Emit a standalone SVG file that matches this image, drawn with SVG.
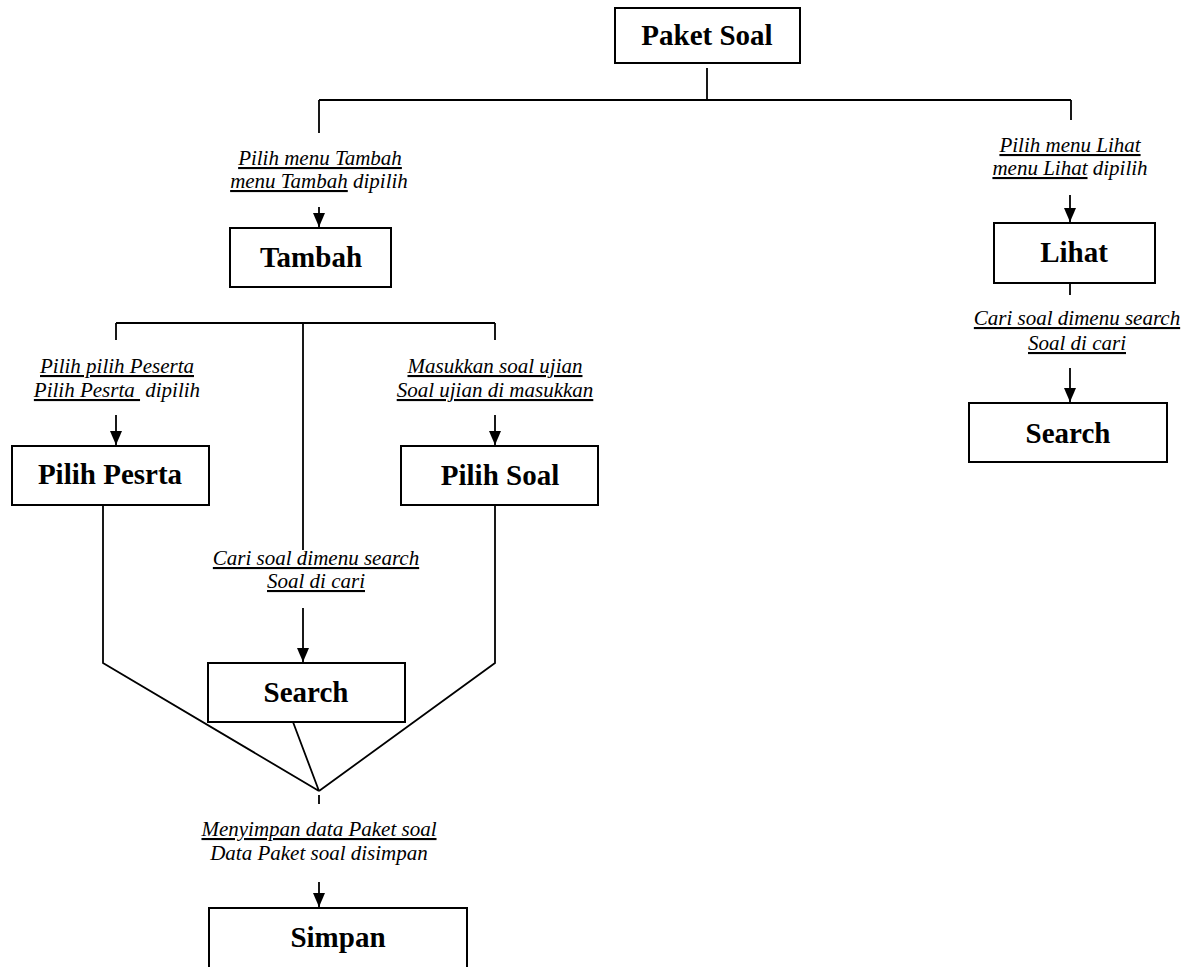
<svg xmlns="http://www.w3.org/2000/svg" width="1186" height="967" viewBox="0 0 1186 967">
<style>
.box{fill:#fff;stroke:#000;stroke-width:2}
.t{font-family:"Liberation Serif","Times New Roman",serif;font-weight:bold;font-size:29px;text-anchor:middle;fill:#000}
.l{font-family:"Liberation Serif","Times New Roman",serif;font-style:italic;font-size:21px;text-anchor:middle;fill:#000;white-space:pre}
.u{text-decoration:underline}
.c{fill:none;stroke:#000;stroke-width:1.8}
</style>
<defs>
<marker id="ah" viewBox="0 0 14 12" refX="14" refY="6" markerWidth="14" markerHeight="12" markerUnits="userSpaceOnUse" orient="auto">
<path d="M0,0 L14,6 L0,12 z" fill="#000"/>
</marker>
</defs>
<rect width="1186" height="967" fill="#fff"/>
<g id="connectors">
<path class="c" d="M707,68 V100 M319,100 H1071 M319,100 V133 M1071,100 V120"/>
<path class="c" d="M319,207 V227" marker-end="url(#ah)"/>
<path class="c" d="M116,323 H495 M116,323 V340 M303,323 V550 M495,323 V340"/>
<path class="c" d="M116,415 V445" marker-end="url(#ah)"/>
<path class="c" d="M495,415 V445" marker-end="url(#ah)"/>
<path class="c" d="M103,505 V663 L319,791 M495,505 V663 L319,791 M293,722 L319,791 M319,795 V804"/>
<path class="c" d="M303,608 V662" marker-end="url(#ah)"/>
<path class="c" d="M319,882 V907" marker-end="url(#ah)"/>
<path class="c" d="M1070,195 V222" marker-end="url(#ah)"/>
<path class="c" d="M1070,283 V295"/>
<path class="c" d="M1070,368 V402" marker-end="url(#ah)"/>
</g>
<g id="labels">
<text class="l" x="320" y="165"><tspan class="u">Pilih menu Tambah</tspan></text>
<text class="l" x="319" y="188"><tspan class="u">menu Tambah</tspan> dipilih</text>
<text class="l" x="1070" y="152"><tspan class="u">Pilih menu Lihat</tspan></text>
<text class="l" x="1070" y="175"><tspan class="u">menu Lihat</tspan> dipilih</text>
<text class="l" x="1077" y="325"><tspan class="u">Cari soal dimenu search</tspan></text>
<text class="l" x="1077" y="350"><tspan class="u">Soal di cari</tspan></text>
<text class="l" x="117" y="373"><tspan class="u">Pilih pilih Peserta</tspan></text>
<text class="l" x="117" y="397"><tspan class="u">Pilih Pesrta </tspan> dipilih</text>
<text class="l" x="495" y="373"><tspan class="u">Masukkan soal ujian</tspan></text>
<text class="l" x="495" y="397"><tspan class="u">Soal ujian di masukkan</tspan></text>
<text class="l" x="316" y="565"><tspan class="u">Cari soal dimenu search</tspan></text>
<text class="l" x="316" y="588"><tspan class="u">Soal di cari</tspan></text>
<text class="l" x="319" y="836"><tspan class="u">Menyimpan data Paket soal</tspan></text>
<text class="l" x="319" y="860">Data Paket soal disimpan</text>
</g>
<g id="paket-soal"><rect class="box" x="615" y="8" width="185" height="55"/><text class="t" x="707" y="45">Paket Soal</text></g>
<g id="tambah"><rect class="box" x="230" y="228" width="161" height="59"/><text class="t" x="311" y="267">Tambah</text></g>
<g id="lihat"><rect class="box" x="994" y="223" width="161" height="60"/><text class="t" x="1074" y="262">Lihat</text></g>
<g id="search-right"><rect class="box" x="969" y="403" width="198" height="59"/><text class="t" x="1068" y="443">Search</text></g>
<g id="pilih-pesrta"><rect class="box" x="12" y="446" width="197" height="59"/><text class="t" x="110" y="484">Pilih Pesrta</text></g>
<g id="pilih-soal"><rect class="box" x="401" y="446" width="197" height="59"/><text class="t" x="500" y="485">Pilih Soal</text></g>
<g id="search-left"><rect class="box" x="208" y="663" width="197" height="59"/><text class="t" x="306" y="702">Search</text></g>
<g id="simpan"><rect class="box" x="209" y="908" width="258" height="80"/><text class="t" x="338" y="947">Simpan</text></g>
</svg>
